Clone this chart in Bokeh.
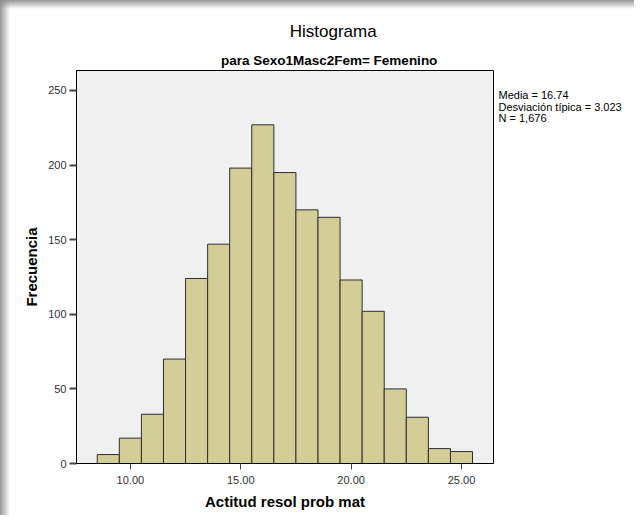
from bokeh.plotting import figure
from bokeh.models import Range1d, FixedTicker, NumeralTickFormatter, ColumnDataSource, Title
from bokeh.core.properties import value
from bokeh.layouts import row
from bokeh.embed import file_html
from bokeh.resources import INLINE

# Data
bin_centers = [9, 10, 11, 12, 13, 14, 15, 16, 17, 18, 19, 20, 21, 22, 23, 24, 25]
frequencies = [6, 17, 33, 70, 124, 147, 198, 227, 195, 170, 165, 123, 102, 50, 31, 10, 8]
bin_width = 1.0
x_ticks = [10, 15, 20, 25]
y_ticks = [0, 50, 100, 150, 200, 250]
title_text = "Histograma"
subtitle_text = "para Sexo1Masc2Fem= Femenino"
x_label = "Actitud resol prob mat"
y_label = "Frecuencia"
stats_lines = ["Media = 16.74", "Desviación típica = 3.023", "N = 1,676"]

H = 515
W1, W2 = 495, 139
FL, FR, FT, FB = 76, 2, 70, 52
FONT = "Liberation Sans"

src = ColumnDataSource(dict(
    left=[c - bin_width / 2 for c in bin_centers],
    right=[c + bin_width / 2 for c in bin_centers],
    top=frequencies,
    bottom=[0] * len(frequencies),
))

p = figure(width=W1, height=H, output_backend="svg", toolbar_location=None,
           x_range=Range1d(7.56, 26.45), y_range=Range1d(0, 263.4),
           min_border_left=FL, min_border_right=FR, min_border_top=FT, min_border_bottom=FB)
p.background_fill_color = "#F0F0F0"
p.border_fill_color = None
p.outline_line_color = "black"
p.outline_line_width = 1
p.grid.visible = False

p.quad(left="left", right="right", top="top", bottom="bottom", source=src,
       fill_color="#D3CE97", line_color="#2E2E2E", line_width=1)

for ax in (p.xaxis[0], p.yaxis[0]):
    ax.axis_line_color = "black"
    ax.major_tick_line_color = "#444444"
    ax.major_tick_in = 0
    ax.minor_tick_line_color = None
    ax.major_label_text_font = FONT
    ax.major_label_text_font_size = "11px"
    ax.major_label_text_color = "#333333"
    ax.axis_label_text_font = FONT
    ax.axis_label_text_font_style = "bold"
    ax.axis_label_text_font_size = "15px"
    ax.axis_label_text_color = "black"

p.xaxis[0].ticker = FixedTicker(ticks=x_ticks)
p.xaxis[0].formatter = NumeralTickFormatter(format="0.00")
p.xaxis[0].major_tick_out = 6
p.xaxis[0].major_label_standoff = 6
p.xaxis[0].axis_label = x_label
p.xaxis[0].axis_label_standoff = 6

p.yaxis[0].ticker = FixedTicker(ticks=y_ticks)
p.yaxis[0].major_tick_out = 7
p.yaxis[0].major_tick_line_width = 2
p.yaxis[0].major_label_standoff = 3
p.yaxis[0].axis_label = y_label
p.yaxis[0].axis_label_standoff = 5

# Titles (subtitle first: it sits closest to the frame)
p.add_layout(Title(text=subtitle_text, align="left", offset=144.4, standoff=6,
                   text_font=FONT, text_font_size="13.5px", text_font_style="bold",
                   text_color="black"), "above")
p.add_layout(Title(text=title_text, align="left", offset=213.2, standoff=14,
                   text_font=FONT, text_font_size="17px", text_font_style="normal",
                   text_color="black"), "above")

# Right-hand statistics panel: its frame matches the main frame's height,
# data space in pixels measured upward from the frame bottom
FH = H - FT - FB
stats_src = ColumnDataSource(dict(
    x=[3] * len(stats_lines),
    y=[FH - 24.5 - i * 11.5 for i in range(len(stats_lines))],
    text=stats_lines,
))
p2 = figure(width=W2, height=H, output_backend="svg", toolbar_location=None,
            x_range=Range1d(0, W2), y_range=Range1d(0, FH),
            x_axis_type=None, y_axis_type=None,
            min_border_left=0, min_border_right=0, min_border_top=FT, min_border_bottom=FB)
p2.outline_line_color = None
p2.background_fill_color = None
p2.border_fill_color = None
p2.grid.visible = False
p2.text(x="x", y="y", text="text", source=stats_src, text_font=value(FONT),
        text_font_size="11px", text_align="left", text_baseline="middle", text_color="black")

shadow_bg = ("linear-gradient(to bottom, rgba(140,140,140,0.9) 0px, rgba(255,255,255,0) 9px), "
             "linear-gradient(to right, rgba(140,140,140,0.9) 0px, rgba(255,255,255,0) 10px), "
             "#ffffff")
layout = row(p, p2, spacing=0, styles={"background": shadow_bg})
open("out.html", "w").write(file_html(layout, INLINE))
